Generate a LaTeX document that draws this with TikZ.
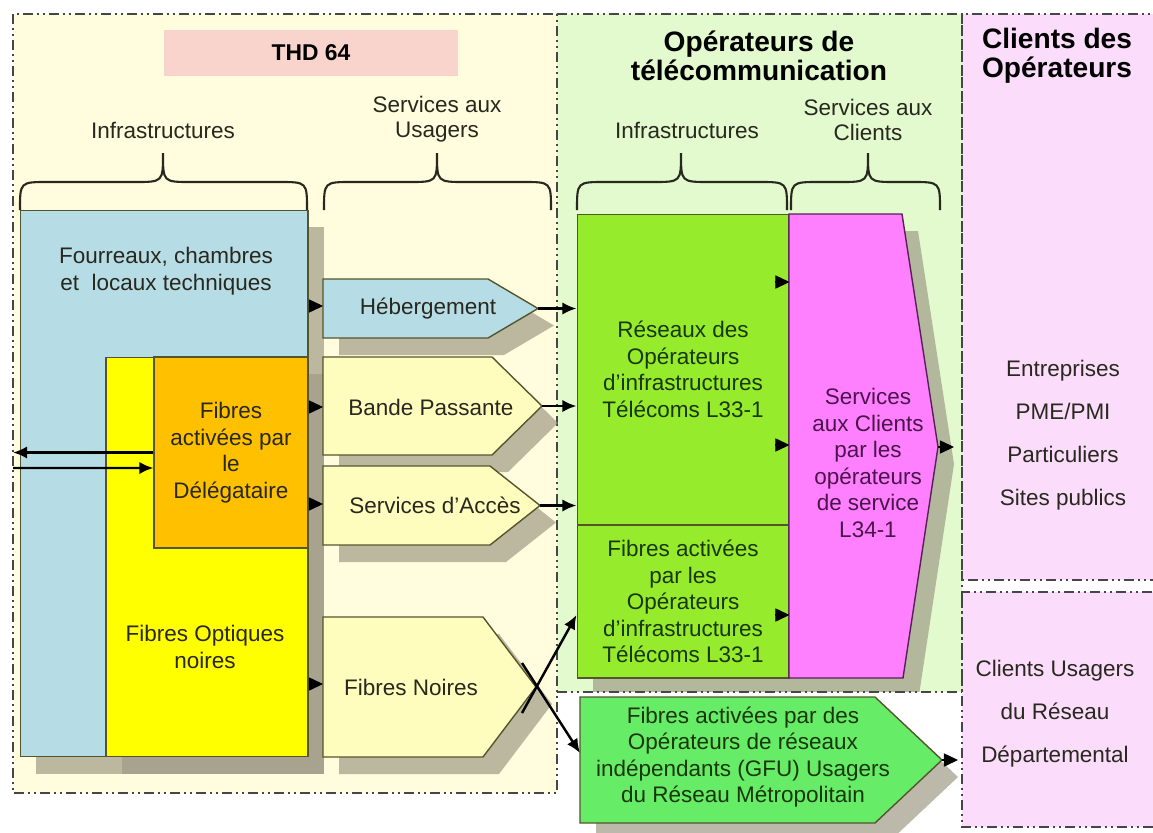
\documentclass[tikz,border=0pt]{standalone}
\usepackage{fontspec}
\setmainfont{Liberation Sans}
\usetikzlibrary{arrows.meta, calc, shadows}

\definecolor{bgyellow}{RGB}{255,253,222}
\definecolor{bggreen}{RGB}{226,250,206}
\definecolor{bgpink}{RGB}{251,221,251}
\definecolor{thdpink}{RGB}{248,212,204}
\definecolor{bluebox}{RGB}{182,221,230}
\definecolor{yellowbox}{RGB}{255,255,0}
\definecolor{orangebox}{RGB}{255,192,0}
\definecolor{svcfill}{RGB}{255,253,190}
\definecolor{limebox}{RGB}{150,235,45}
\definecolor{magentabox}{RGB}{255,128,255}
\definecolor{gfubox}{RGB}{102,236,102}
\definecolor{edgeolive}{RGB}{85,85,45}
\definecolor{edgepurple}{RGB}{90,30,90}
\definecolor{dashgray}{RGB}{70,70,70}
\definecolor{shadowgray}{RGB}{160,155,135}
\definecolor{textdark}{RGB}{40,40,30}
\definecolor{textgreen}{RGB}{25,55,10}
\definecolor{textpurple}{RGB}{75,20,75}

\newcommand{\bodyfont}{\fontsize{12.8}{15.1}\selectfont}
\newcommand{\groupfont}{\fontsize{12.8}{14.2}\selectfont}
\newcommand{\headfont}{\fontsize{16}{16.5}\selectfont\bfseries}
\newcommand{\listfont}{\fontsize{12.8}{24.4}\selectfont}

% curly bracket over a column: left x, middle x, right x
\newcommand{\groupbrace}[3]{%
    \draw[curly] (#1,210) .. controls (#1,182) .. ({#1+28},182) -- ({#2-28},182)
        .. controls (#2,182) .. (#2,153) .. controls (#2,182) .. ({#2+28},182)
        -- ({#3-28},182) .. controls (#3,182) .. (#3,210);}

\tikzset{
    region/.style = {draw=dashgray, line width=1.1pt, dash pattern=on 5.7pt off 2.3pt on 1.1pt off 2.3pt on 1.1pt off 2.3pt},
    boxshadow/.style = {drop shadow={shadow xshift=0.32cm, shadow yshift=-0.34cm, fill=shadowgray, opacity=0.7}},
    block/.style = {rectangle, draw=edgeolive, line width=0.6pt, inner sep=0pt, align=center, font=\bodyfont},
    arrowbox/.style = {draw=edgeolive, line width=0.8pt, boxshadow},
    txt/.style = {align=center, font=\bodyfont, inner sep=0pt, text=textdark},
    grouptxt/.style = {align=center, font=\groupfont, inner sep=0pt, text=textdark},
    title/.style = {align=center, font=\headfont, inner sep=0pt, text=black},
    curly/.style = {draw=textdark, line width=1.2pt},
    line/.style = {draw, -{Latex[length=8pt, width=7pt]}, line width=1.4pt},
    feed/.style = {draw, -{Triangle[length=8pt, width=7.5pt]}, line width=0.6pt}
}

\begin{document}
\begin{tikzpicture}[x=0.02cm, y=-0.02cm]
        \useasboundingbox (0,0) rectangle (1153,832);

        % Regions
        \path[fill=bgyellow] (13,14) rectangle (557,793);
        \path[fill=bggreen] (557,14) rectangle (962,692);
        \path[fill=bgpink] (962,14) rectangle (1160,580);
        \path[fill=bgpink] (962,592) rectangle (1160,827);
        \draw[region] (13,14) rectangle (557,793);
        \draw[region] (557,14) -- (962,14) -- (962,692);
        \draw[region] (962,14) rectangle (1160,580);
        \draw[region] (962,592) rectangle (1160,827);

        % Titles
        \node[fill=thdpink, minimum width=5.88cm, minimum height=0.94cm, font=\fontsize{13}{15}\selectfont\bfseries] (thd) at (311,53) {THD 64};
        \node[title] (optitle) at (759,55.5) {Opérateurs de\\télécommunication};
        \node[title] (cltitle) at (1057,55.5) {Clients des\\Opérateurs};
        \node[grouptxt] (infra1) at (163,130) {Infrastructures};
        \node[grouptxt] (svc1) at (437,119.5) {Services aux\\Usagers};
        \node[grouptxt] (infra2) at (687,130) {Infrastructures};
        \node[grouptxt] (svc2) at (868,119.5) {Services aux\\Clients};
        \groupbrace{20}{163}{307}
        \groupbrace{324}{437}{551}
        \groupbrace{577}{681}{787}
        \groupbrace{791}{868}{940}

        % THD 64 infrastructures
        \node[block, boxshadow, fill=bluebox, minimum width=5.76cm, minimum height=10.94cm] (fourreaux) at (164,483.5) {};
        \node[txt] (fourreauxtxt) at (166,271) {Fourreaux, chambres\\et\ \ locaux techniques};
        \node[block, boxshadow, fill=yellowbox, minimum width=4.04cm, minimum height=8cm] (noires) at (207,557) {};
        \node[txt] (noirestxt) at (205,647) {Fibres Optiques\\noires};
        \node[block, fill=orangebox, text=textdark, minimum width=3.08cm, minimum height=3.82cm] (delegataire) at (231,452.5) {Fibres\\activées par\\le\\Délégataire};

        % Services aux usagers
        \draw[arrowbox, fill=bluebox] (323,279) -- (488,279) -- (538,308.5) coordinate (hebtip) -- (488,338) -- (323,338) -- cycle;
        \draw[arrowbox, fill=svcfill] (323,357) -- (492,357) -- (542,406) coordinate (bandetip) -- (492,455) -- (323,455) -- cycle;
        \draw[arrowbox, fill=svcfill] (323,466) -- (490,466) -- (540,505.5) coordinate (accestip) -- (490,545) -- (323,545) -- cycle;
        \draw[arrowbox, fill=svcfill] (323,617) -- (483,617) -- (536,687) coordinate (fntip) -- (483,757) -- (323,757) -- cycle;
        \coordinate (hebin) at (323,306);
        \coordinate (bandein) at (323,407);
        \coordinate (accesin) at (323,504);
        \coordinate (fnin) at (323,684);
        \node[txt] (heb) at (428,309) {Hébergement};
        \node[txt] (bande) at (431,407) {Bande Passante};
        \node[txt] (acces) at (435,505) {Services d’Accès};
        \node[txt] (fnoires) at (411,687) {Fibres Noires};

        % Operateurs
        \node[block, boxshadow, fill=limebox, text=textgreen, minimum width=4.24cm, minimum height=6.22cm] (reseaux) at (683,369.5) {Réseaux des\\Opérateurs\\d’infrastructures\\Télécoms L33-1};
        \node[block, boxshadow, fill=limebox, text=textgreen, minimum width=4.24cm, minimum height=3.06cm] (actives) at (683,601.5) {Fibres activées\\par les\\Opérateurs\\d’infrastructures\\Télécoms L33-1};
        \draw[arrowbox, draw=edgepurple, fill=magentabox] (789,214) -- (902,214) -- (938,447) coordinate (pinktip) -- (903,678) -- (789,678) -- cycle;
        \node[txt, text=textpurple] (clientsvc) at (868,463) {Services\\aux Clients\\par les\\opérateurs\\de service\\L34-1};

        % Reseau metropolitain
        \path[fill=white] (558,692) rectangle (961,832);
        \draw[region] (557,692) -- (962,692);
        \draw[arrowbox, fill=gfubox] (580,697) -- (875,697) -- (942,760) coordinate (gfutip) -- (875,823) -- (580,823) -- cycle;
        \coordinate (gfuin) at (580,760);
        \node[txt, text=textgreen] (gfu) at (743,757) {Fibres activées par des\\Opérateurs de réseaux\\indépendants (GFU) Usagers\\du Réseau Métropolitain};

        % Clients
        \node[txt, font=\listfont] (clients) at (1063,435) {Entreprises\\PME/PMI\\Particuliers\\Sites publics};
        \node[txt, font=\listfont] (usagers) at (1055,714) {Clients Usagers\\du Réseau\\Départemental};

        % Edges
        \path[feed] (fourreaux.east |- hebin) -- (hebin);
        \path[feed] (delegataire.east |- bandein) -- (bandein);
        \path[feed] (delegataire.east |- accesin) -- (accesin);
        \path[feed] (noires.east |- fnin) -- (fnin);
        \path[line] (hebtip) -- (reseaux.west |- hebtip);
        \path[line] (bandetip) -- (reseaux.west |- bandetip);
        \path[line] (accestip) -- (reseaux.west |- accestip);
        \path[line] ($(fntip)+(-14,26)$) -- ([yshift=-0.27cm]actives.west);
        \path[line] ($(fntip)+(-14,-24)$) -- ([yshift=0.14cm]gfuin);
        \path[feed] ([xshift=-0.3cm, yshift=1.75cm]reseaux.east) -- ([yshift=1.75cm]reseaux.east);
        \path[feed] ([xshift=-0.3cm, yshift=-1.51cm]reseaux.east) -- ([yshift=-1.51cm]reseaux.east);
        \path[feed] ([xshift=-0.3cm, yshift=-0.27cm]actives.east) -- ([yshift=-0.27cm]actives.east);
        \path[feed] (pinktip) -- ([xshift=0.32cm]pinktip);
        \path[feed] (gfutip) -- ([xshift=0.32cm]gfutip);

        % Delegataire links
        \coordinate (outL) at (13,452.5);
        \coordinate (inL) at (13,468);
        \path[line] (delegataire.west) -- (outL);
        \path[line] (inL) -- ([yshift=-0.31cm]delegataire.west);
    \end{tikzpicture}
\end{document}
